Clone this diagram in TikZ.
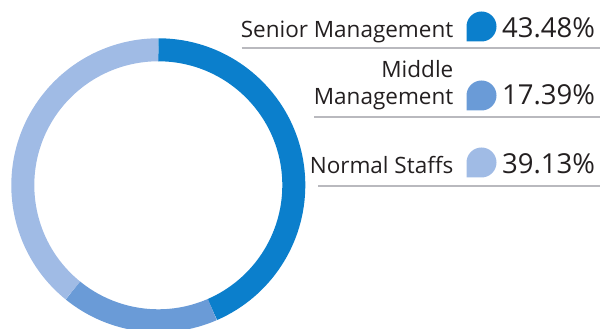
\documentclass[tikz,border=0pt]{standalone}
\usepackage{fontspec}
\setmainfont{Open Sans}
\usepackage{tikz}
\usetikzlibrary{positioning}
\usetikzlibrary{calc}

\definecolor{senior}{HTML}{0B7FCC}
\definecolor{middle}{HTML}{6A9BD7}
\definecolor{normal}{HTML}{A0BBE5}
\definecolor{inktext}{HTML}{231F20}
\definecolor{rule}{HTML}{B9B9BE}

\tikzset{
    ring/.style = {line width=23pt},
    label/.style = {inner sep=0pt, anchor=base east, text=inktext, align=right,
        font=\fontsize{22.5}{27.5}\selectfont},
    percent/.style = {inner sep=0pt, anchor=base west, text=inktext,
        font=\fontsize{27.5}{30}\selectfont},
    sep/.style = {draw=rule, line width=2pt}
}

% drop marker, bottom left corner at #1
\newcommand{\dropmark}[2]{%
    \fill[#2] (#1) ++(15,0) arc[start angle=-90, end angle=180, radius=15] -- ++(0,-15) -- cycle;
}

\begin{document}
\begin{tikzpicture}[x=1pt,y=1pt]
        \useasboundingbox (0,0) rectangle (600,329);

        % the ring
        \coordinate (c) at (158.3,143.7);
        \draw[ring, senior] (c) ++(90:135.5) arc[start angle=90, end angle=-66.5, radius=135.5];
        \draw[ring, middle] (c) ++(-66.5:135.5) arc[start angle=-66.5, end angle=-129.1, radius=135.5];
        \draw[ring, normal] (c) ++(-129.1:135.5) arc[start angle=-129.1, end angle=-270, radius=135.5];

        % legend
        \node[label] (lsenior) at (453.5,291.5) {Senior Management};
        \node[label] (lmiddle) at (453.5,224) {Middle\\Management};
        \node[label] (lnormal) at (453.5,155.5) {Normal Staffs};

        \dropmark{466.5,287.5}{senior}
        \dropmark{466.5,218.5}{middle}
        \dropmark{466.5,151.5}{normal}

        \node[percent] (psenior) at (502,291.5) {43.48\%};
        \node[percent] (pmiddle) at (502,224) {17.39\%};
        \node[percent] (pnormal) at (502,155.5) {39.13\%};

        \draw[sep] (241.7,280.5) -- (600,280.5);
        \draw[sep] (314,212.3) -- (600,212.3);
        \draw[sep] (318,143.3) -- (600,143.3);
    \end{tikzpicture}
\end{document}
